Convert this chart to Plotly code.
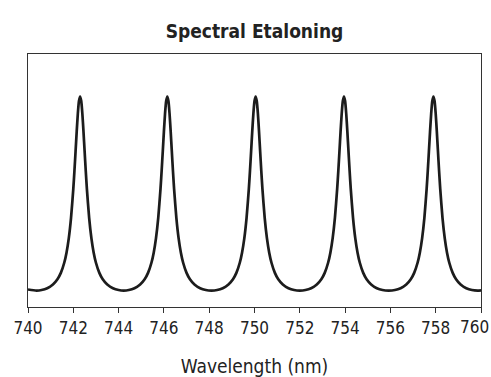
import plotly.graph_objects as go

# Wavelength samples (nm)
wavelength = [
    740.0, 740.375,
    740.6, 740.85, 741.1, 741.3, 741.45, 741.6, 741.7, 741.8, 741.9, 742.0, 742.05, 742.1, 742.15, 742.2, 742.25,
    742.3,
    742.35, 742.4, 742.45, 742.5, 742.55, 742.6, 742.7, 742.8, 742.9, 743.0, 743.15, 743.3, 743.5, 743.75, 744.0,
    744.225,
    744.45, 744.7, 744.95, 745.15, 745.3, 745.45, 745.55, 745.65, 745.75, 745.85, 745.9, 745.95, 746.0, 746.05, 746.1,
    746.15,
    746.2, 746.25, 746.3, 746.35, 746.4, 746.45, 746.55, 746.65, 746.75, 746.85, 747.0, 747.15, 747.35, 747.6, 747.85,
    748.1,
    748.35, 748.6, 748.85, 749.05, 749.2, 749.35, 749.45, 749.55, 749.65, 749.75, 749.8, 749.85, 749.9, 749.95, 750.0,
    750.05,
    750.1, 750.15, 750.2, 750.25, 750.3, 750.35, 750.45, 750.55, 750.65, 750.75, 750.9, 751.05, 751.25, 751.5, 751.75,
    752.0,
    752.25, 752.5, 752.75, 752.95, 753.1, 753.25, 753.35, 753.45, 753.55, 753.65, 753.7, 753.75, 753.8, 753.85, 753.9,
    753.95,
    754.0, 754.05, 754.1, 754.15, 754.2, 754.25, 754.35, 754.45, 754.55, 754.65, 754.8, 754.95, 755.15, 755.4, 755.65,
    755.925,
    756.2, 756.45, 756.7, 756.9, 757.05, 757.2, 757.3, 757.4, 757.5, 757.6, 757.65, 757.7, 757.75, 757.8, 757.85,
    757.9,
    757.95, 758.0, 758.05, 758.1, 758.15, 758.2, 758.3, 758.4, 758.5, 758.6, 758.75, 758.9, 759.1, 759.35, 759.6,
    759.85, 760.0,
]

# Relative transmission
transmission = [
    0.0719, 0.0667,
    0.0693, 0.0779, 0.0956, 0.1210, 0.1517, 0.2004, 0.2490, 0.3179, 0.4166, 0.5556, 0.6415, 0.7356, 0.8313, 0.9171, 0.9779,
    1.0,
    0.9779, 0.9171, 0.8313, 0.7356, 0.6415, 0.5556, 0.4166, 0.3179, 0.2490, 0.2004, 0.1517, 0.1210, 0.0956, 0.0779, 0.0693,
    0.0667,
    0.0693, 0.0779, 0.0956, 0.1210, 0.1517, 0.2004, 0.2490, 0.3179, 0.4166, 0.5556, 0.6415, 0.7356, 0.8313, 0.9171, 0.9779,
    1.0,
    0.9779, 0.9171, 0.8313, 0.7356, 0.6415, 0.5556, 0.4166, 0.3179, 0.2490, 0.2004, 0.1517, 0.1210, 0.0956, 0.0779, 0.0693,
    0.0667,
    0.0693, 0.0779, 0.0956, 0.1210, 0.1517, 0.2004, 0.2490, 0.3179, 0.4166, 0.5556, 0.6415, 0.7356, 0.8313, 0.9171, 0.9779,
    1.0,
    0.9779, 0.9171, 0.8313, 0.7356, 0.6415, 0.5556, 0.4166, 0.3179, 0.2490, 0.2004, 0.1517, 0.1210, 0.0956, 0.0779, 0.0693,
    0.0667,
    0.0693, 0.0779, 0.0956, 0.1210, 0.1517, 0.2004, 0.2490, 0.3179, 0.4166, 0.5556, 0.6415, 0.7356, 0.8313, 0.9171, 0.9779,
    1.0,
    0.9779, 0.9171, 0.8313, 0.7356, 0.6415, 0.5556, 0.4166, 0.3179, 0.2490, 0.2004, 0.1517, 0.1210, 0.0956, 0.0779, 0.0693,
    0.0667,
    0.0693, 0.0779, 0.0956, 0.1210, 0.1517, 0.2004, 0.2490, 0.3179, 0.4166, 0.5556, 0.6415, 0.7356, 0.8313, 0.9171, 0.9779,
    1.0,
    0.9779, 0.9171, 0.8313, 0.7356, 0.6415, 0.5556, 0.4166, 0.3179, 0.2490, 0.2004, 0.1517, 0.1210, 0.0956, 0.0779, 0.0693,
    0.0667, 0.0676,
]

x_ticks = [740, 742, 744, 746, 748, 750, 752, 754, 756, 758, 760]
title_text = "Spectral Etaloning"
x_title = "Wavelength (nm)"

FONT = "Liberation Sans Narrow, DejaVu Sans Condensed, Arial Narrow, sans-serif"
TICK_SIZE = 17

# last tick label would overflow the page edge: draw it right-aligned instead
tick_text = [str(t) for t in x_ticks[:-1]] + [""]

fig = go.Figure()
fig.add_trace(go.Scatter(
    x=wavelength, y=transmission, mode="lines",
    line=dict(color="#1c1c1c", width=2.7, shape="spline", smoothing=0.6),
    showlegend=False, hoverinfo="skip",
))

fig.update_layout(
    width=491, height=377,
    margin=dict(l=28, r=10, t=54, b=70),
    paper_bgcolor="white", plot_bgcolor="white",
    font=dict(family=FONT, color="#222222"),
    title=dict(text="<b>" + title_text + "</b>", x=0.5, xref="paper", xanchor="center",
               y=1 - 31 / 377, yref="container", yanchor="middle",
               font=dict(family=FONT, size=19, color="#222222")),
)
fig.add_annotation(
    x=x_ticks[-1], xref="x", y=0, yref="paper",
    text=str(x_ticks[-1]), showarrow=False,
    xanchor="right", yanchor="middle", xshift=10, yshift=-20,
    font=dict(family=FONT, size=TICK_SIZE, color="#222222"),
)
fig.update_xaxes(
    range=[740, 760], tickvals=x_ticks, ticktext=tick_text,
    automargin=False,
    showline=True, linecolor="#333333", linewidth=1.4, mirror=True,
    ticks="outside", ticklen=5, tickwidth=1.2, tickcolor="#333333",
    showgrid=False, zeroline=False,
    tickfont=dict(family=FONT, size=TICK_SIZE, color="#222222"),
    title=dict(text=x_title, font=dict(family=FONT, size=19, color="#222222"), standoff=26),
)
fig.update_yaxes(
    range=[-0.0124, 1.2044], showticklabels=False, ticks="", automargin=False,
    showline=True, linecolor="#333333", linewidth=1.4, mirror=True,
    showgrid=False, zeroline=False,
)

fig.write_html("out.html")
